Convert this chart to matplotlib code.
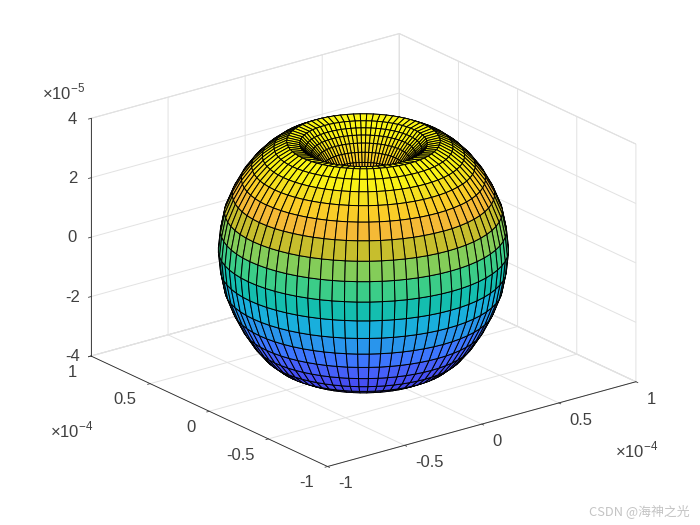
import numpy as np
import matplotlib
matplotlib.use("Agg")
import matplotlib.pyplot as plt
from matplotlib.colors import LinearSegmentedColormap

plt.rcParams['font.family'] = ['Liberation Sans', 'DejaVu Sans']
plt.rcParams['mathtext.fontset'] = 'custom'
plt.rcParams['mathtext.rm'] = 'Liberation Sans'

# pattern profile, equator to pole (r in 1e-4, z in 1e-5)
ring_r = [0.747, 0.736, 0.715, 0.675, 0.628, 0.575, 0.520, 0.460, 0.395, 0.329, 0.300, 0.269, 0.239, 0.209, 0.179, 0.134, 0.075, 0.0]
upper_z = [0.0, 0.66, 1.30, 1.89, 2.41, 2.84, 3.18, 3.46, 3.66, 3.58, 3.41, 3.24, 3.04, 2.80, 2.53, 2.03, 1.35, 0.0]
lower_z = [0.0, -0.66, -1.30, -1.92, -2.48, -2.98, -3.38, -3.68, -3.88, -3.84, -3.60, -3.35, -3.10, -2.85, -2.55, -2.03, -1.35, 0.0]
n_segments = 72

xy_ticks = [-1e-4, -0.5e-4, 0, 0.5e-4, 1e-4]
xy_labels = ['-1', '-0.5', '0', '0.5', '1']
z_ticks = [-4e-5, -2e-5, 0, 2e-5, 4e-5]
z_labels = ['-4', '-2', '0', '2', '4']

# colour of the bands against height (1e-5)
band_levels = [-3.8, -3.1, -2.65, -2.15, -1.6, -0.98, -0.33, 0.33, 0.98, 1.6, 2.15, 2.64, 3.05, 3.4, 3.7]
band_colors = ['#4444e8', '#4650f5', '#4664fa', '#3c78ff', '#2896eb', '#19afdc', '#14beaf', '#3ccd87',
               '#82cd5a', '#c6be2d', '#f5b937', '#facd28', '#f5e11e', '#faf514', '#faf514']
span = band_levels[-1] - band_levels[0]
cmap = LinearSegmentedColormap.from_list(
    'parula_like', [((lv - band_levels[0]) / span, c) for lv, c in zip(band_levels, band_colors)])

# close the surface: upper half plus lower half
r = np.array(ring_r[::-1] + ring_r[1:]) * 1e-4
z = np.array(upper_z[::-1] + lower_z[1:]) * 1e-5
phi = np.linspace(0, 2 * np.pi, n_segments + 1)
X = np.outer(r, np.cos(phi))
Y = np.outer(r, np.sin(phi))
Z = np.outer(z, np.ones_like(phi))

fig = plt.figure(figsize=(7, 5.25), dpi=100)
ax = fig.add_axes([61.5 / 700, -27 / 525, 588 / 700, 588 / 525], projection='3d', proj_type='ortho')
ax.set_box_aspect((1, 1, 0.655))
ax.view_init(elev=21, azim=-127.5)

ax.plot_surface(X, Y, Z, cmap=cmap, vmin=band_levels[0] * 1e-5, vmax=band_levels[-1] * 1e-5,
                rstride=1, cstride=1, edgecolor='black', linewidth=0.7)

ax.set_xlim(-1e-4, 1e-4)
ax.set_ylim(-1e-4, 1e-4)
ax.set_zlim(-4e-5, 4e-5)
ax.set_xticks(xy_ticks)
ax.set_xticklabels(xy_labels)
ax.set_yticks(xy_ticks)
ax.set_yticklabels(xy_labels)
ax.set_zticks(z_ticks)
ax.set_zticklabels(z_labels)
ax.tick_params(labelsize=12, colors='#404040')
ax.xaxis.set_tick_params(pad=2)
ax.yaxis.set_tick_params(pad=2)
ax.zaxis.set_tick_params(pad=-0.5)

for label in ax.get_xticklabels():
    label.set_ha('left')
    label.set_va('center_baseline')
for label in ax.get_yticklabels():
    label.set_ha('right')
    label.set_va('center_baseline')
for label in ax.get_zticklabels():
    label.set_va('center_baseline')

for axis in (ax.xaxis, ax.yaxis, ax.zaxis):
    axis.set_pane_color((1, 1, 1, 1))
    axis.pane.set_edgecolor('#d9d9d9')
    axis.pane.set_linewidth(0.7)
    axis.line.set_color('#262626')
    axis.line.set_linewidth(0.6)
    axis._axinfo['grid'].update(color='#e2e2e2', linewidth=0.7)
    axis._axinfo['tick'].update(inward_factor=0.1, outward_factor=0.0, linewidth={True: 0.6, False: 0.5})

fig.text(42 / 700, 1 - 92 / 525, r'$\times$10$^{\mathrm{-5}}$', fontsize=12, color='#404040', ha='left', va='center')
fig.text(50 / 700, 1 - 430 / 525, r'$\times$10$^{\mathrm{-4}}$', fontsize=12, color='#404040', ha='left', va='center')
fig.text(615 / 700, 1 - 450 / 525, r'$\times$10$^{\mathrm{-4}}$', fontsize=12, color='#404040', ha='left', va='center')
fig.text(589 / 700, 1 - 511 / 525, 'CSDN @海神之光', fontsize=9.3, color='#c4c4c4', ha='left', va='center',
         family=['Noto Sans CJK SC', 'DejaVu Sans'])

fig.savefig('out.png', dpi=100)
